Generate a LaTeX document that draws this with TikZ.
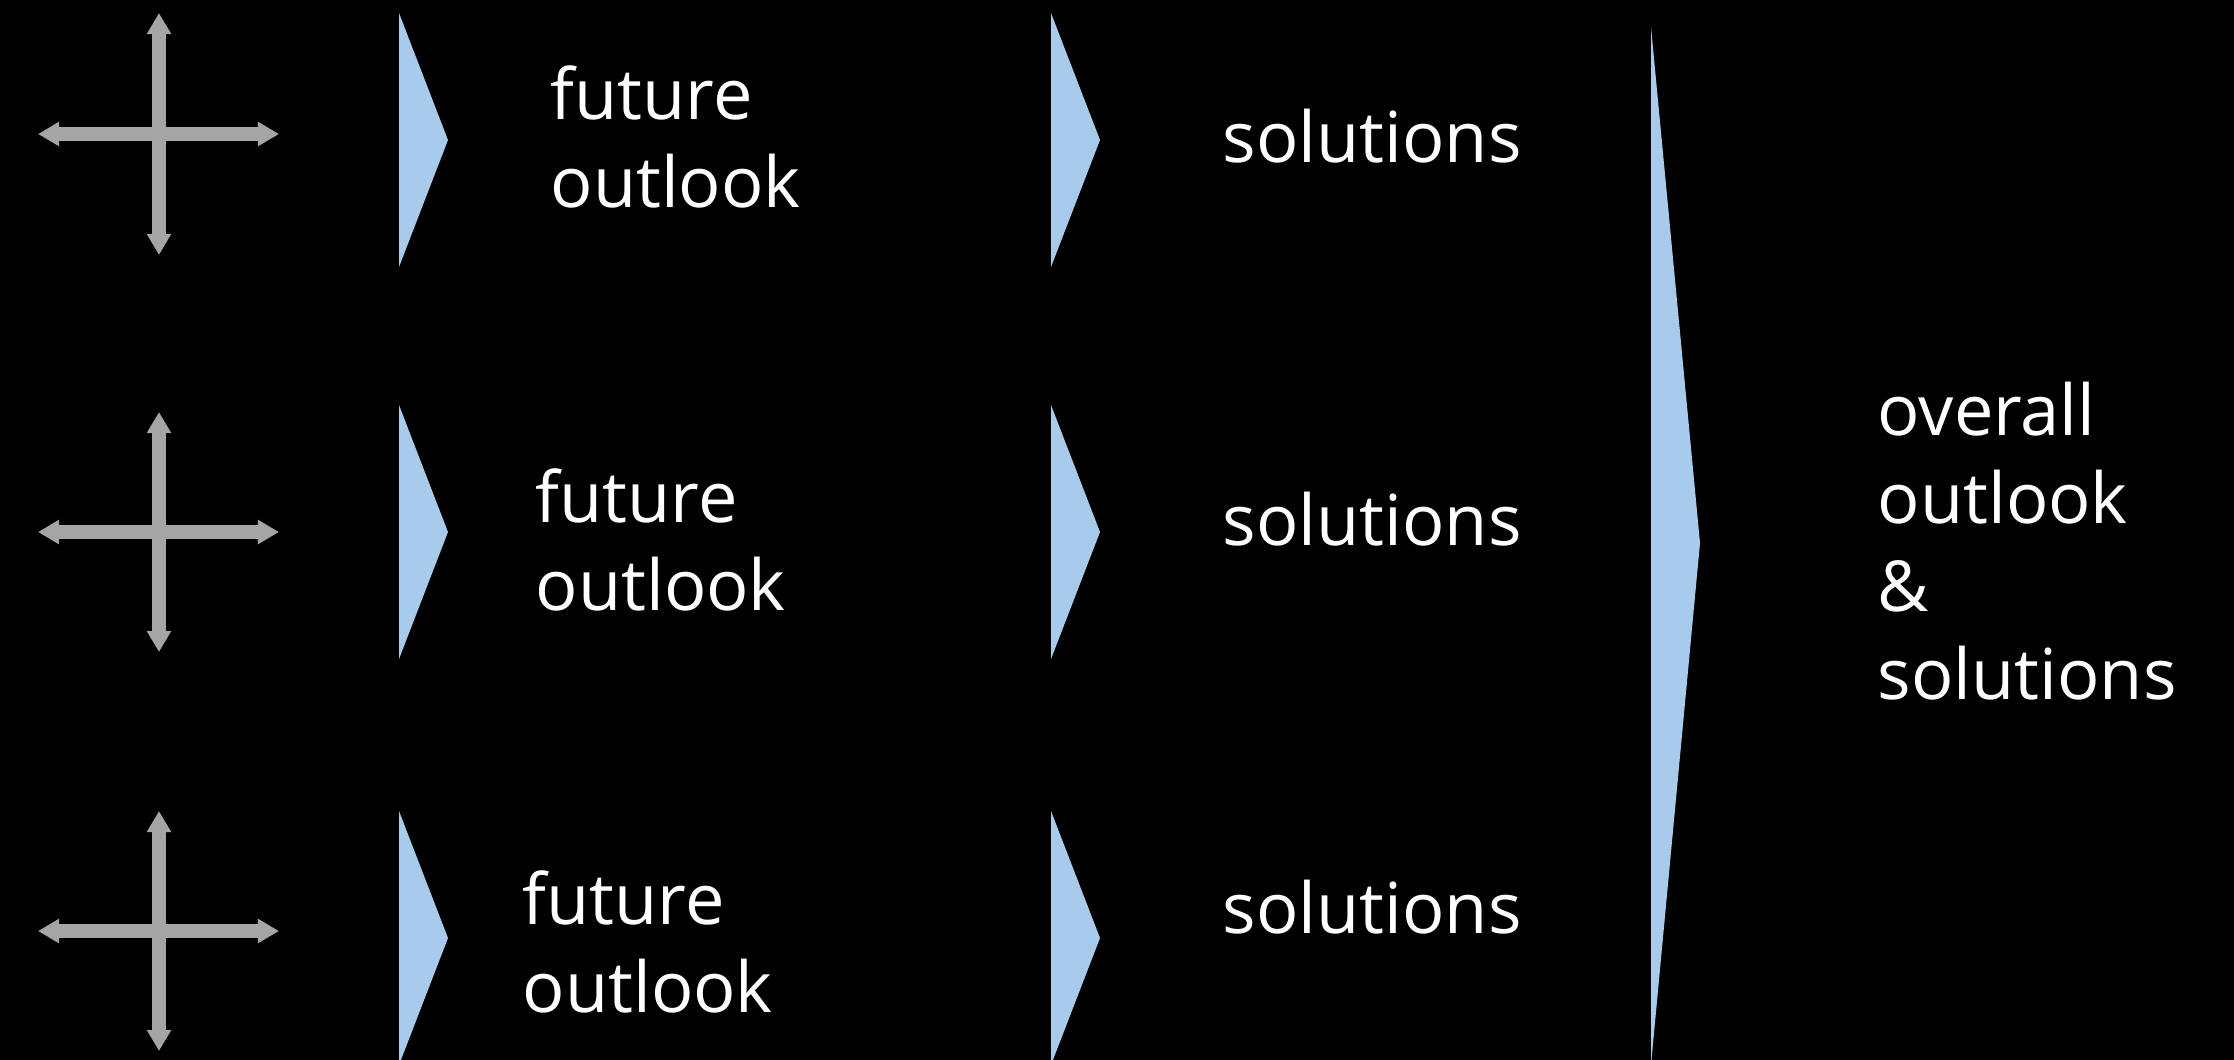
\documentclass[tikz,border=0pt]{standalone}
\usepackage{fontspec}
\setmainfont{Open Sans}
\usetikzlibrary{arrows.meta}
\definecolor{wedgeblue}{RGB}{168,203,236}
\definecolor{crossgrey}{RGB}{165,165,165}

\begin{document}
\begin{tikzpicture}[x=0.01cm, y=-0.01cm,
        wedge/.style={fill=wedgeblue},
        cross/.style={draw=crossgrey, line width=0.14cm,
            {Triangle[width=0.23cm,length=0.21cm]}-{Triangle[width=0.23cm,length=0.21cm]}},
        lbl/.style={text=white, anchor=base west, align=left, inner sep=0pt,
            font=\fontsize{20}{25}\selectfont}]
    \useasboundingbox (0,0) rectangle (2234,1059);
    \fill[black] (-10,-10) rectangle (2244,1069);
    % crosses
    \draw[cross] (38,134) -- (279,134);
    \draw[cross] (159,13) -- (159,255);
    \draw[cross] (38,532) -- (279,532);
    \draw[cross] (159,412) -- (159,652);
    \draw[cross] (38,931) -- (279,931);
    \draw[cross] (159,811) -- (159,1051);
    % wedges
    \fill[wedge] (399,13) -- (448,140) -- (399,267) -- cycle;
    \fill[wedge] (399,405) -- (448,532) -- (399,659) -- cycle;
    \fill[wedge] (399,811) -- (448,938) -- (399,1065) -- cycle;
    \fill[wedge] (1051,13) -- (1100,140) -- (1051,267) -- cycle;
    \fill[wedge] (1051,405) -- (1100,532) -- (1051,659) -- cycle;
    \fill[wedge] (1051,811) -- (1100,938) -- (1051,1065) -- cycle;
    \fill[wedge] (1651,27) -- (1700,543) -- (1651,1065) -- cycle;
    % labels (base anchor sits on the last line)
    \node[lbl] (outlook1) at (550,207) {future\\outlook};
    \node[lbl] (outlook2) at (535,610) {future\\outlook};
    \node[lbl] (outlook3) at (522,1012) {future\\outlook};
    \node[lbl] (sol1) at (1222,162) {solutions};
    \node[lbl] (sol2) at (1222,545) {solutions};
    \node[lbl] (sol3) at (1222,933) {solutions};
    \node[lbl] (overall) at (1877,699) {overall\\outlook\\\&\\solutions};
\end{tikzpicture}
\end{document}
